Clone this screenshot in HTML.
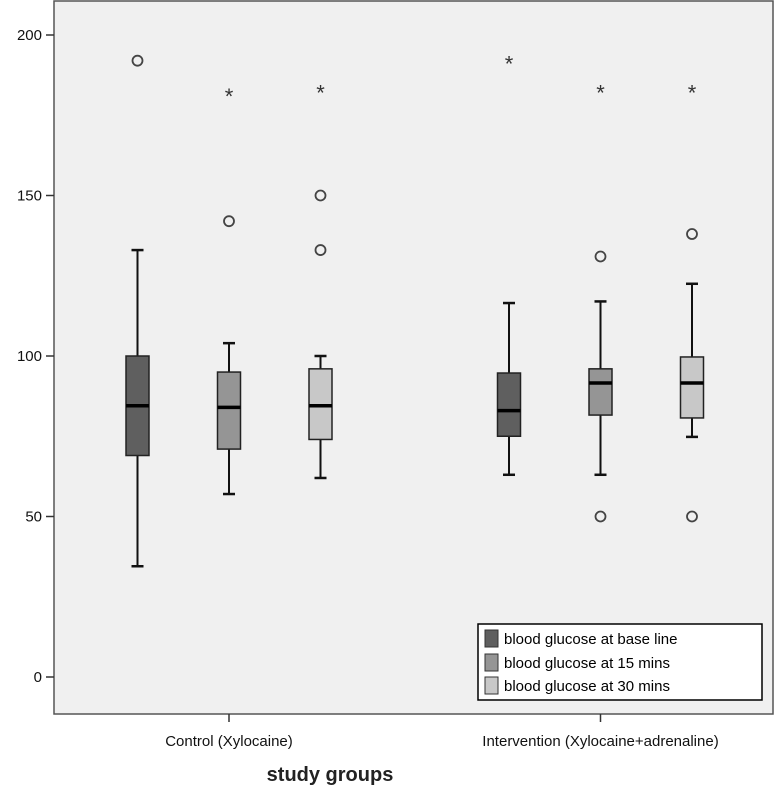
<!DOCTYPE html>
<html><head><meta charset="utf-8"><style>
body{margin:0;background:#fff;}
svg{display:block;font-family:"Liberation Sans",sans-serif;}
</style></head><body>
<svg id="chart" width="774" height="791">
<rect x="54" y="1" width="719" height="713" fill="#f0f0f0" stroke="#555" stroke-width="1.5"/>
<g id="axes"></g>
<g id="boxes"></g>
<g>
<rect x="478" y="624" width="284" height="76" fill="#fff" stroke="#000" stroke-width="1.5"/>
<rect x="485" y="630" width="13" height="17" fill="#5f5f5f" stroke="#333"/>
<text x="504" y="644" font-size="15">blood glucose at base line</text>
<rect x="485" y="654" width="13" height="17" fill="#959595" stroke="#333"/>
<text x="504" y="668" font-size="15">blood glucose at 15 mins</text>
<rect x="485" y="677" width="13" height="17" fill="#c8c8c8" stroke="#333"/>
<text x="504" y="691" font-size="15">blood glucose at 30 mins</text>
</g>
<text x="330" y="781" font-size="20" font-weight="bold" text-anchor="middle" fill="#222">study groups</text>
</svg>
<script>
const categories=["Control (Xylocaine)","Intervention (Xylocaine+adrenaline)"];
const seriesNames=["base line","15 mins","30 mins"];
const whiskerHigh=[[133,104,100],[116.5,117,122.5]];
const q3=[[100,95,96],[94.7,96,99.7]];
const medians=[[84.5,84,84.5],[83,91.6,91.6]];
const q1=[[69,71,74],[75,81.6,80.7]];
const whiskerLow=[[34.5,57,62],[63,63,74.8]];
const circles=[[[192],[142],[150,133]],[[],[131,50],[138,50]]];
const stars=[[[],[182],[183]],[[192],[183],[183]]];
const yTicks=[0,50,100,150,200];
const colors=["#5f5f5f","#959595","#c8c8c8"];
const ns="http://www.w3.org/2000/svg";
function y(v){return 677-3.21*v;}
function gx(g,s){return [229,600.5][g]+(s-1)*91.5;}
function mk(tag,attrs,parent){const e=document.createElementNS(ns,tag);for(const k in attrs)e.setAttribute(k,attrs[k]);parent.appendChild(e);return e;}
const ax=document.getElementById('axes'),bx=document.getElementById('boxes');
yTicks.forEach(t=>{
 const l=mk('line',{x1:46,x2:54,y1:y(t),y2:y(t),stroke:'#333','stroke-width':1.5},ax);
 
 
 const tx=mk('text',{x:42,y:y(t)+5,'font-size':15,'text-anchor':'end',fill:'#111'},ax);
 tx.textContent=t;
 
 
});
categories.forEach((c,g)=>{
 const cx=gx(g,1);
 const l=mk('line',{x1:cx,x2:cx,y1:714,y2:722,stroke:'#333','stroke-width':1.5},ax);
 
 
 const tx=mk('text',{x:cx,y:746,'font-size':15,'text-anchor':'middle',fill:'#111'},ax);
 tx.textContent=c;
 
 
 seriesNames.forEach((s,i)=>{
  const x=gx(g,i);
  const grp=mk('g',{},bx);
  
  
  mk('line',{x1:x,x2:x,y1:y(whiskerHigh[g][i]),y2:y(whiskerLow[g][i]),stroke:'#111','stroke-width':2},grp);
  mk('line',{x1:x-6,x2:x+6,y1:y(whiskerHigh[g][i]),y2:y(whiskerHigh[g][i]),stroke:'#111','stroke-width':2.5},grp);
  mk('line',{x1:x-6,x2:x+6,y1:y(whiskerLow[g][i]),y2:y(whiskerLow[g][i]),stroke:'#111','stroke-width':2.5},grp);
  mk('rect',{x:x-11.5,y:y(q3[g][i]),width:23,height:y(q1[g][i])-y(q3[g][i]),fill:colors[i],stroke:'#222','stroke-width':1.5},grp);
  mk('line',{x1:x-11.5,x2:x+11.5,y1:y(medians[g][i]),y2:y(medians[g][i]),stroke:'#000','stroke-width':3.5},grp);
  circles[g][i].forEach(v=>{
   const c=mk('circle',{cx:x,cy:y(v),r:5,fill:'none',stroke:'#444','stroke-width':1.8},bx);
   
   
  });
  stars[g][i].forEach(v=>{
   const t=mk('text',{x:x,y:y(v)+11,'font-size':22,'text-anchor':'middle',fill:'#333'},bx);
   t.textContent='*';
   
   
  });
 });
});
</script>
</body></html>
